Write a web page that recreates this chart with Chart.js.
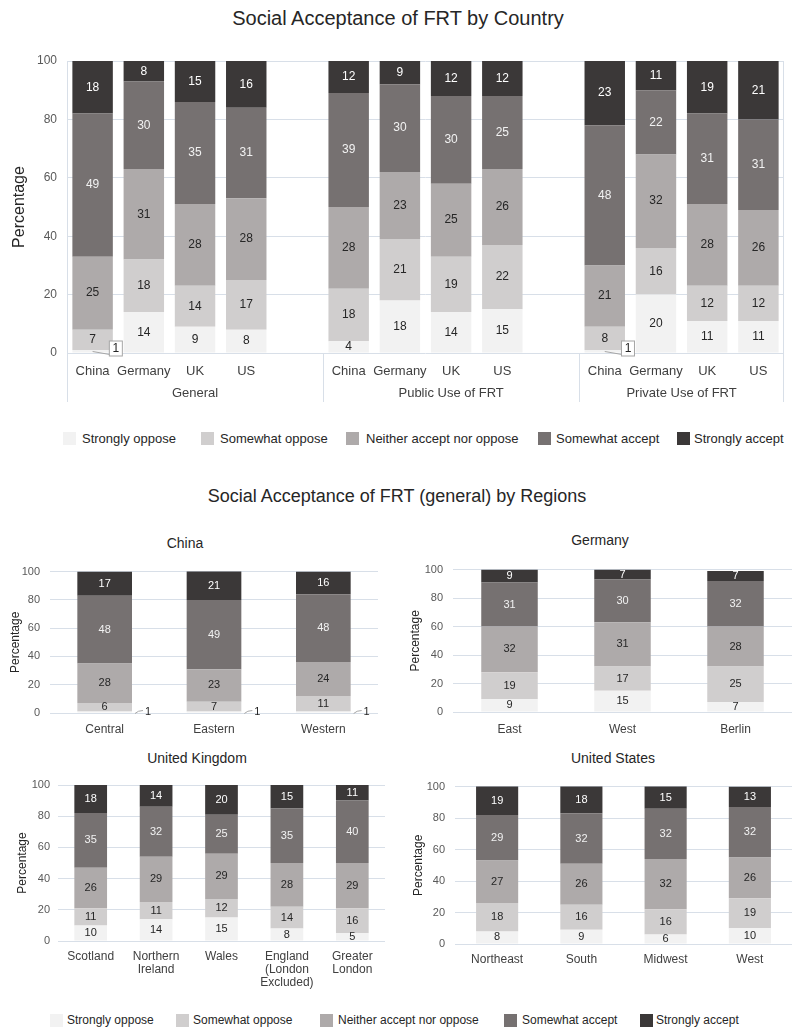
<!DOCTYPE html>
<html lang="en">
<head>
  <meta charset="UTF-8">
  <title>Social Acceptance of FRT</title>
  <script src="https://cdn.jsdelivr.net/npm/chart.js"></script>
  <style>
    * { margin: 0; padding: 0; box-sizing: border-box; }
    body {
      width: 795px;
      height: 1031px;
      background: #fff;
      font-family: "Liberation Sans", Arial, sans-serif;
      color: #262626;
      position: relative;
      overflow: hidden;
    }
    .box { position: absolute; }
    .txt {
      position: absolute;
      transform: translate(-50%, -50%);
      white-space: nowrap;
    }
    .title { font-size: 19px; color: #262626; }
    .sub { font-size: 14px; color: #262626; }
    .key {
      position: absolute;
      width: 13px;
      height: 13px;
    }
    .keytxt {
      position: absolute;
      transform: translateY(-50%);
      white-space: nowrap;
      color: #262626;
    }
  </style>
</head>
<body>
  <div class="txt title" style="left:398px; top:18px; font-size:20px;">Social Acceptance of FRT by Country</div>
  <div class="box" style="left:0; top:40px;"><canvas id="mainChart" width="795" height="380"></canvas></div>
  <div id="legendTop"></div>

  <div class="txt title" style="left:397px; top:496px; font-size:18px;">Social Acceptance of FRT (general) by Regions</div>

  <div class="txt sub" style="left:185px; top:543px;">China</div>
  <div class="box" style="left:0; top:555px;"><canvas id="chinaChart" width="395" height="185"></canvas></div>

  <div class="txt sub" style="left:600px; top:540px;">Germany</div>
  <div class="box" style="left:400px; top:553px;"><canvas id="germanyChart" width="395" height="190"></canvas></div>

  <div class="txt sub" style="left:197px; top:758px;">United Kingdom</div>
  <div class="box" style="left:0; top:770px;"><canvas id="ukChart" width="395" height="225"></canvas></div>

  <div class="txt sub" style="left:613px; top:758px;">United States</div>
  <div class="box" style="left:400px; top:770px;"><canvas id="usChart" width="395" height="225"></canvas></div>

  <div id="legendBottom"></div>

  <script>
    // Answer levels and their colours (Excel grey ramp)
    const levels = ['Strongly oppose', 'Somewhat oppose', 'Neither accept nor oppose', 'Somewhat accept', 'Strongly accept'];
    const levelColors = ['#F2F2F2', '#D0CECE', '#AEAAAA', '#767171', '#3B3838'];
    const labelColors = ['#262626', '#262626', '#262626', '#f2f2f2', '#ffffff'];

    // Top chart: by country, three question groups
    const countries = ['China', 'Germany', 'UK', 'US'];
    const uses = ['General', 'Public Use of FRT', 'Private Use of FRT'];
    const stronglyOppose = [1, 14, 9, 8, 4, 18, 14, 15, 1, 20, 11, 11];
    const somewhatOppose = [7, 18, 14, 17, 18, 21, 19, 22, 8, 16, 12, 12];
    const neitherNor = [25, 31, 28, 28, 28, 23, 25, 26, 21, 32, 28, 26];
    const somewhatAccept = [49, 30, 35, 31, 39, 30, 30, 25, 48, 22, 31, 31];
    const stronglyAccept = [18, 8, 15, 16, 12, 9, 12, 12, 23, 11, 19, 21];

    // Regions (rows follow the levels order)
    const chinaRegions = ['Central', 'Eastern', 'Western'];
    const chinaData = [[1, 1, 1], [6, 7, 11], [28, 23, 24], [48, 49, 48], [17, 21, 16]];
    const germanyRegions = ['East', 'West', 'Berlin'];
    const germanyData = [[9, 15, 7], [19, 17, 25], [32, 31, 28], [31, 30, 32], [9, 7, 7]];
    const ukRegions = ['Scotland', ['Northern', 'Ireland'], 'Wales', ['England', '(London', 'Excluded)'], ['Greater', 'London']];
    const ukData = [[10, 14, 15, 8, 5], [11, 11, 12, 14, 16], [26, 29, 29, 28, 29], [35, 32, 25, 35, 40], [18, 14, 20, 15, 11]];
    const usRegions = ['Northeast', 'South', 'Midwest', 'West'];
    const usData = [[8, 9, 6, 10], [18, 16, 16, 19], [27, 26, 32, 26], [29, 32, 32, 32], [19, 18, 15, 13]];

    const FONT = '"Liberation Sans", Arial, sans-serif';
    const GRID = '#d8dfe8';
    Chart.defaults.font.family = FONT;
    Chart.defaults.color = '#404040';
    Chart.defaults.animation = false;

    // put an empty slot between the groups
    function spread(values, gap) {
      const out = [];
      uses.forEach((u, g) => {
        if (g > 0) out.push(gap);
        countries.forEach((c, k) => out.push(values[g * countries.length + k]));
      });
      return out;
    }

    // Number inside every segment; a value of 1 gets a callout
    const segmentLabels = {
      id: 'segmentLabels',
      afterDatasetsDraw(chart, args, opts) {
        const ctx = chart.ctx;
        const area = chart.chartArea;
        ctx.save();
        ctx.font = opts.size + 'px ' + FONT;
        ctx.textAlign = 'center';
        ctx.textBaseline = 'middle';
        chart.data.datasets.forEach((ds, di) => {
          chart.getDatasetMeta(di).data.forEach((bar, i) => {
            const v = ds.data[i];
            if (v == null) return;
            const p = bar.getProps(['x', 'y', 'base', 'width'], true);
            if (v <= 1) {
              const right = p.x + p.width / 2;
              ctx.strokeStyle = '#a6a6a6';
              ctx.lineWidth = 1;
              if (opts.callout === 'box') {
                ctx.beginPath();
                ctx.moveTo(p.x, p.base - 1);
                ctx.lineTo(right - 3, p.base + 2);
                ctx.stroke();
                ctx.fillStyle = '#fff';
                ctx.fillRect(right - 3.5, p.base - 11.5, 13, 15);
                ctx.strokeRect(right - 3.5, p.base - 11.5, 13, 15);
                ctx.fillStyle = '#262626';
                ctx.fillText(v, right + 3, p.base - 4);
              } else {
                ctx.beginPath();
                ctx.moveTo(right + 3, p.base + 1);
                ctx.quadraticCurveTo(right + 6, p.base - 2, right + 11, p.base - 2);
                ctx.stroke();
                ctx.fillStyle = '#262626';
                ctx.fillText(v, right + 16, p.base - 1);
              }
              return;
            }
            const top = Math.max(p.y, area.top);
            ctx.fillStyle = labelColors[di];
            ctx.fillText(v, p.x, (top + p.base) / 2);
          });
        });
        ctx.restore();
      }
    };

    // Frame, group separators and group names under the country axis
    const groupAxis = {
      id: 'groupAxis',
      afterDraw(chart) {
        const ctx = chart.ctx;
        const a = chart.chartArea;
        const xs = chart.scales.x;
        const bottom = a.bottom + 49;
        const cuts = [a.left];
        for (let g = 1; g < uses.length; g++) {
          const k = g * (countries.length + 1);
          cuts.push((xs.getPixelForValue(k - 1) + xs.getPixelForValue(k)) / 2);
        }
        cuts.push(a.right);
        ctx.save();
        ctx.strokeStyle = GRID;
        ctx.lineWidth = 1;
        ctx.beginPath();
        ctx.moveTo(a.left + 0.5, a.top);
        ctx.lineTo(a.left + 0.5, bottom);
        ctx.moveTo(a.right - 0.5, a.top);
        ctx.lineTo(a.right - 0.5, bottom);
        cuts.slice(1, -1).forEach(c => {
          ctx.moveTo(Math.round(c) + 0.5, a.bottom);
          ctx.lineTo(Math.round(c) + 0.5, bottom);
        });
        ctx.stroke();
        ctx.font = '13px ' + FONT;
        ctx.fillStyle = '#404040';
        ctx.textAlign = 'center';
        ctx.textBaseline = 'middle';
        uses.forEach((u, g) => ctx.fillText(u, (cuts[g] + cuts[g + 1]) / 2, a.bottom + 40));
        ctx.restore();
      }
    };

    function makeDatasets(rows, barPct) {
      return levels.map((name, li) => ({
        label: name,
        data: rows[li],
        backgroundColor: levelColors[li],
        borderWidth: 0,
        barPercentage: barPct,
        categoryPercentage: 1
      }));
    }

    // Top chart
    const mainRows = [stronglyOppose, somewhatOppose, neitherNor, somewhatAccept, stronglyAccept].map(r => spread(r, null));
    new Chart(document.getElementById('mainChart'), {
      type: 'bar',
      data: { labels: spread(countries.concat(countries, countries), ''), datasets: makeDatasets(mainRows, 0.79) },
      options: {
        responsive: false,
        layout: { padding: { top: 21, right: 11, left: 0, bottom: 0 } },
        plugins: { legend: { display: false }, tooltip: { enabled: false }, segmentLabels: { size: 12, callout: 'box' } },
        scales: {
          x: {
            stacked: true,
            grid: { display: false },
            border: { display: false },
            ticks: { font: { size: 13 }, color: '#404040', padding: 3, autoSkip: false, maxRotation: 0 },
            afterFit: s => { s.height = 67; }
          },
          y: {
            stacked: true,
            min: 0,
            max: 100,
            ticks: { stepSize: 20, font: { size: 12 }, color: '#595959', padding: 10 },
            grid: { color: GRID, drawTicks: false },
            border: { display: false },
            title: { display: true, text: 'Percentage', font: { size: 16 }, color: '#262626', padding: { top: 10, bottom: 0 } },
            afterFit: s => { s.width = 67; }
          }
        }
      },
      plugins: [segmentLabels, groupAxis]
    });

    // Regional charts
    function regionChart(id, regions, rows, d) {
      new Chart(document.getElementById(id), {
        type: 'bar',
        data: { labels: regions, datasets: makeDatasets(rows, 0.5) },
        options: {
          responsive: false,
          layout: { padding: { top: d.top, right: d.right, left: 0, bottom: 0 } },
          plugins: { legend: { display: false }, tooltip: { enabled: false }, segmentLabels: { size: 11, callout: 'side' } },
          scales: {
            x: {
              stacked: true,
              grid: { display: false },
              border: { display: false },
              ticks: { font: { size: 12, lineHeight: 1.1 }, color: '#404040', padding: d.xPad, autoSkip: false, maxRotation: 0 },
              afterFit: s => { s.height = d.xh; }
            },
            y: {
              stacked: true,
              min: 0,
              max: 100,
              ticks: { stepSize: 20, font: { size: 11 }, color: '#595959', padding: d.yPad },
              grid: { color: GRID, drawTicks: false },
              border: { display: false },
              title: { display: true, text: 'Percentage', font: { size: 12 }, color: '#262626', padding: { top: d.tPad, bottom: 0 } },
              afterFit: s => { s.width = d.yw; }
            }
          }
        },
        plugins: [segmentLabels]
      });
    }

    regionChart('chinaChart', chinaRegions, chinaData, { top: 14, right: 17, xh: 27, xPad: 2, yw: 50, yPad: 10, tPad: 8 });
    regionChart('germanyChart', germanyRegions, germanyData, { top: 14, right: 3, xh: 31, xPad: 3, yw: 53, yPad: 10, tPad: 8 });
    regionChart('ukChart', ukRegions, ukData, { top: 15, right: 10, xh: 54, xPad: 1, yw: 58, yPad: 8, tPad: 15 });
    regionChart('usChart', usRegions, usData, { top: 16, right: 3, xh: 51, xPad: 1, yw: 55, yPad: 10, tPad: 11 });

    // Legends
    function legend(id, boxLefts, textLefts, cy, size) {
      const host = document.getElementById(id);
      levels.forEach((name, i) => {
        const k = document.createElement('div');
        k.className = 'key';
        k.style.left = boxLefts[i] + 'px';
        k.style.top = (cy - 6.5) + 'px';
        k.style.background = levelColors[i];
        host.appendChild(k);
        const t = document.createElement('div');
        t.className = 'keytxt';
        t.style.left = textLefts[i] + 'px';
        t.style.top = cy + 'px';
        t.style.fontSize = size + 'px';
        t.textContent = name;
        host.appendChild(t);
      });
    }
    legend('legendTop', [63, 201, 346, 538, 677], [82, 220, 366, 556, 694], 438, 13);
    legend('legendBottom', [50, 176, 320, 504, 640], [67, 193, 338, 522, 656], 1020, 12);
  </script>
</body>
</html>
